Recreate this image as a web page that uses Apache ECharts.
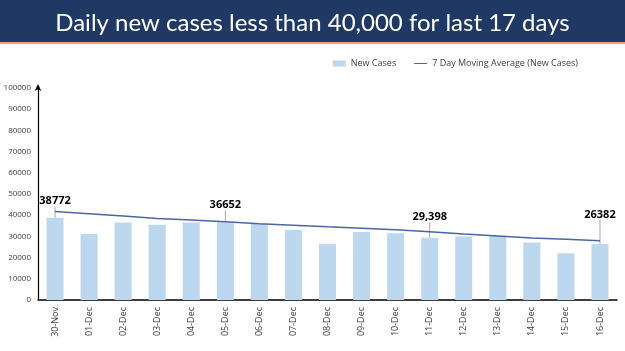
<!DOCTYPE html>
<html>
<head>
<meta charset="utf-8">
<script src="https://cdn.jsdelivr.net/npm/echarts@6/dist/echarts.min.js"></script>
<style>
  html, body { margin: 0; padding: 0; background: #fff; }
  #main { width: 625px; height: 351px; }
</style>
</head>
<body>
<div id="main"></div>
<script>
  // data
  const days = ['30-Nov', '01-Dec', '02-Dec', '03-Dec', '04-Dec', '05-Dec', '06-Dec', '07-Dec', '08-Dec',
    '09-Dec', '10-Dec', '11-Dec', '12-Dec', '13-Dec', '14-Dec', '15-Dec', '16-Dec'];
  const newCases = [38772, 31118, 36604, 35551, 36595, 36652, 36011, 32981, 26567,
    32080, 31521, 29398, 30006, 30254, 27071, 22065, 26382];
  const movingAvg = [41700, 40700, 39600, 38500, 37700, 36900, 36000, 35300, 34500,
    33800, 33100, 32200, 31100, 30200, 29300, 28600, 27900];
  const labelled = { 0: '38772', 5: '36652', 11: '29,398', 16: '26382' };
  const labelLift = { 0: -6, 5: -7, 11: -10, 16: -19 };

  let myChart = echarts.init(document.getElementById('main'));

  const barData = newCases.map((v, i) => {
    if (labelled[i] === undefined) return v;
    return {
      value: v,
      label: {
        show: true,
        position: 'top',
        formatter: labelled[i],
        color: '#000',
        fontWeight: 'bold',
        fontSize: 11,
        fontFamily: 'Open Sans'
      },
      labelLine: { show: true, lineStyle: { color: '#a6a6a6', width: 1 } }
    };
  });

  let option = {
    animation: false,
    graphic: [
      { type: 'rect', shape: { x: 0, y: 0, width: 625, height: 42 }, style: { fill: '#1f3864' } },
      { type: 'rect', shape: { x: 0, y: 42, width: 625, height: 2 }, style: { fill: '#f2a477' } }
    ],
    title: {
      text: 'Daily new cases less than 40,000 for last 17 days',
      left: 'center',
      top: 6,
      textStyle: { color: '#ffffff', fontSize: 24, fontWeight: 'normal', fontFamily: 'Lato' }
    },
    legend: {
      right: 42,
      top: 54,
      itemWidth: 13,
      itemHeight: 6,
      itemGap: 18,
      textStyle: { color: '#404040', fontSize: 9, fontFamily: 'Open Sans' },
      data: [
        { name: 'New Cases', icon: 'rect' },
        { name: '7 Day Moving Average (New Cases)', icon: 'path://M0,0 L26,0 L26,2 L0,2 Z' }
      ]
    },
    grid: { left: 38, right: 8, top: 88, bottom: 51, outerBoundsMode: 'none' },
    xAxis: {
      type: 'category',
      data: days,
      axisLine: { lineStyle: { color: '#000', width: 1.5 } },
      axisTick: { show: false },
      axisLabel: { rotate: 90, fontSize: 9, color: '#404040', fontFamily: 'Open Sans', margin: 7 }
    },
    yAxis: {
      type: 'value',
      min: 0,
      max: 100000,
      interval: 10000,
      axisLine: { show: true, symbol: ['none', 'arrow'], symbolSize: [5, 7], symbolOffset: [0, 4],
        lineStyle: { color: '#000', width: 1.2 } },
      axisTick: { show: false },
      splitLine: { show: false },
      axisLabel: { fontSize: 8, color: '#404040', fontFamily: 'Open Sans', margin: 7,
        formatter: (v) => String(v) }
    },
    series: [
      {
        name: 'New Cases',
        type: 'bar',
        data: barData,
        barWidth: 17,
        itemStyle: { color: '#bdd7ee' },
        labelLayout: (params) => ({ dy: labelLift[params.dataIndex] || 0 })
      },
      {
        name: '7 Day Moving Average (New Cases)',
        type: 'line',
        data: movingAvg,
        symbol: 'none',
        smooth: false,
        lineStyle: { color: '#4a67a1', width: 1.5 },
        itemStyle: { color: '#4a67a1' },
        z: 3
      }
    ]
  };

  myChart.setOption(option);
</script>
</body>
</html>
